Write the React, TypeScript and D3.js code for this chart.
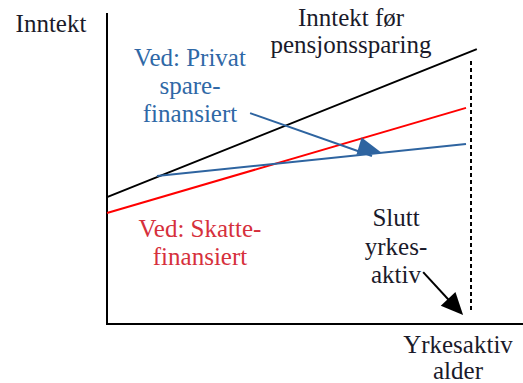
import React from "react";
import * as d3 from "d3";

// Abstract units: x = working age (0..100), y = income (0..100)
const incomeBeforePension = [
  { x: 0, y: 40.8 },
  { x: 88.9, y: 88.4 },
];
const taxFinanced = [
  { x: 0, y: 35.7 },
  { x: 86.3, y: 69.5 },
];
const privateSaving = [
  { x: 12.0, y: 47.6 },
  { x: 86.3, y: 57.9 },
];
const retirementLine = [
  { x: 87.5, y: 84.6 },
  { x: 87.5, y: 4.5 },
];
const privateArrow = [
  { x: 34.4, y: 67.8 },
  { x: 66.1, y: 55.0 },
];
const retireArrow = [
  { x: 76.0, y: 16.7 },
  { x: 85.6, y: 2.9 },
];

const yAxisLabel = ["Inntekt"];
const xAxisLabel = ["Yrkesaktiv", "alder"];
const blackLabel = ["Inntekt før", "pensjonssparing"];
const blueLabel = ["Ved: Privat", "spare-", "finansiert"];
const redLabel = ["Ved: Skatte-", "finansiert"];
const retireLabel = ["Slutt", "yrkes-", "aktiv"];

const W = 523;
const H = 383;
const FONT = "Liberation Serif";
const SIZE = 25;

let ctx: CanvasRenderingContext2D | null = null;
function measure(t: string) {
  if (!ctx) {
    const c = document.createElement("canvas");
    ctx = c.getContext("2d");
  }
  if (!ctx) return t.length * SIZE * 0.45;
  ctx.font = `${SIZE}px "${FONT}"`;
  return ctx.measureText(t).width;
}

function arrowHead(
  p0: [number, number],
  p1: [number, number],
  len: number,
  half: number
) {
  const dx = p1[0] - p0[0];
  const dy = p1[1] - p0[1];
  const d = Math.hypot(dx, dy);
  const ux = dx / d;
  const uy = dy / d;
  const bx = p1[0] - ux * len;
  const by = p1[1] - uy * len;
  const px = -uy;
  const py = ux;
  return `M${p1[0]},${p1[1]}L${bx + px * half},${by + py * half}L${bx - px * half},${by - py * half}Z`;
}

export default function App() {
  const x = d3.scaleLinear().domain([0, 100]).range([107, 523]);
  const y = d3.scaleLinear().domain([0, 100]).range([324, 13]);
  const line = d3
    .line<{ x: number; y: number }>()
    .x((d) => x(d.x))
    .y((d) => y(d.y));

  const pa0: [number, number] = [x(privateArrow[0].x), y(privateArrow[0].y)];
  const pa1: [number, number] = [x(privateArrow[1].x), y(privateArrow[1].y)];
  const ra0: [number, number] = [x(retireArrow[0].x), y(retireArrow[0].y)];
  const ra1: [number, number] = [x(retireArrow[1].x), y(retireArrow[1].y)];

  const multi = (
    lines: string[],
    cx: number,
    y0: number,
    dy: number,
    fill: string
  ) =>
    lines.map((t, i) => (
      <text
        key={i}
        x={cx - measure(t) / 2}
        y={y0 + i * dy}
        style={{ fontFamily: FONT, fontSize: SIZE }}
        fill={fill}
      >
        {t}
      </text>
    ));

  return (
    <svg width={W} height={H} style={{ position: "absolute", left: 0, top: 0 }}>
      {/* axes */}
      <line x1={x(0)} y1={y(100)} x2={x(0)} y2={y(0) + 1} stroke="#000" strokeWidth={2} />
      <line x1={x(0)} y1={y(0)} x2={x(100)} y2={y(0)} stroke="#000" strokeWidth={2} />

      {/* lines */}
      <path d={line(incomeBeforePension) || ""} stroke="#000" strokeWidth={2} fill="none" />
      <path d={line(taxFinanced) || ""} stroke="#ff0000" strokeWidth={2} fill="none" />
      <path d={line(privateSaving) || ""} stroke="#2e64a0" strokeWidth={2} fill="none" />
      <path
        d={line(retirementLine) || ""}
        stroke="#000"
        strokeWidth={2}
        strokeDasharray="4,3"
        fill="none"
      />

      {/* arrows */}
      <line x1={pa0[0]} y1={pa0[1]} x2={pa1[0] - 10} y2={pa1[1] + 3} stroke="#2e64a0" strokeWidth={2} />
      <path d={arrowHead(pa0, pa1, 24, 9)} fill="#2e64a0" />
      <line x1={ra0[0]} y1={ra0[1]} x2={ra1[0] - 6} y2={ra1[1] - 6} stroke="#000" strokeWidth={2} />
      <path d={arrowHead(ra0, ra1, 22, 10)} fill="#000" />

      {/* labels */}
      {multi(yAxisLabel, 51, 32, 28, "#1a1a2a")}
      {multi(blackLabel, 351, 26, 27, "#1a1a2a")}
      {multi(blueLabel, 190, 66, 28, "#2f68a6")}
      {multi(redLabel, 200, 237, 27.5, "#d6303c")}
      {multi(retireLabel, 396, 226, 28.5, "#1a1a2a")}
      {multi(xAxisLabel, 458, 353, 26, "#1a1a2a")}
    </svg>
  );
}
